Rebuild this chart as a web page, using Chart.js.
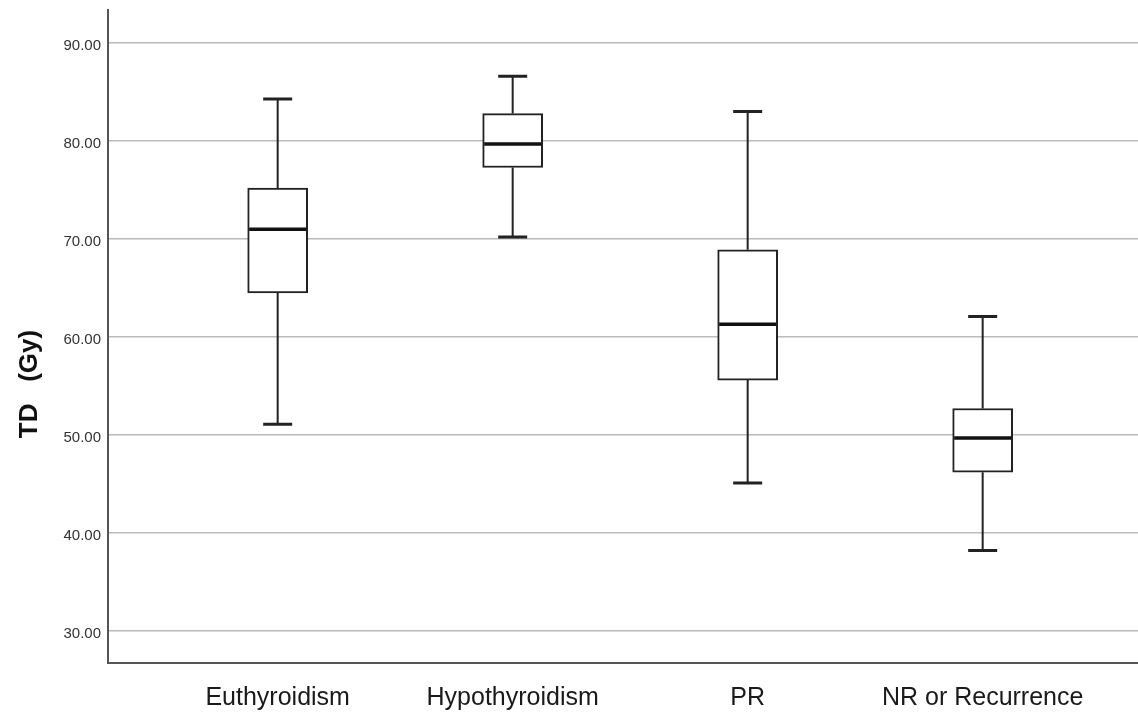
<!DOCTYPE html>
<html>
<head>
<meta charset="utf-8">
<script src="https://cdn.jsdelivr.net/npm/chart.js@4"></script>
<style>
  html, body { margin: 0; padding: 0; background: #fff; }
  #wrap { width: 1138px; height: 715px; }
</style>
</head>
<body>
<div id="wrap"><canvas id="tdChart" width="1138" height="715"></canvas></div>
<script>
// valores (Gy)
const groups = ['Euthyroidism', 'Hypothyroidism', 'PR', 'NR or Recurrence'];
const whiskerMin = [51.1, 70.2, 45.1, 38.2];
const q1 = [64.5, 77.3, 55.6, 46.2];
const median = [71.0, 79.7, 61.3, 49.7];
const q3 = [75.2, 82.8, 68.9, 52.7];
const whiskerMax = [84.3, 86.6, 83.0, 62.1];
const yTicks = [30, 40, 50, 60, 70, 80, 90];

// caixas como barras flutuantes (q1 -> q3)
const boxData = groups.map((g, i) => ({ x: i, y: [q1[i], q3[i]] }));

// bigodes e medianas desenhados com as escalas do gráfico
const whiskerPlugin = {
    id: 'whiskers',
    afterDatasetsDraw(chart) {
        const { ctx, scales: { x, y } } = chart;
        const boxHalf = 29.5;
        const capHalf = 14.5;
        ctx.save();
        groups.forEach((g, i) => {
            const cx = x.getPixelForValue(i);
            // linhas verticais
            ctx.strokeStyle = '#222';
            ctx.lineWidth = 2;
            ctx.beginPath();
            ctx.moveTo(cx, y.getPixelForValue(q3[i]));
            ctx.lineTo(cx, y.getPixelForValue(whiskerMax[i]));
            ctx.moveTo(cx, y.getPixelForValue(q1[i]));
            ctx.lineTo(cx, y.getPixelForValue(whiskerMin[i]));
            ctx.stroke();
            // extremidades
            ctx.lineWidth = 3;
            ctx.beginPath();
            [whiskerMax[i], whiskerMin[i]].forEach(v => {
                const py = y.getPixelForValue(v);
                ctx.moveTo(cx - capHalf, py);
                ctx.lineTo(cx + capHalf, py);
            });
            ctx.stroke();
            // mediana
            ctx.strokeStyle = '#111';
            ctx.lineWidth = 3.5;
            ctx.beginPath();
            const my = y.getPixelForValue(median[i]);
            ctx.moveTo(cx - boxHalf + 1, my);
            ctx.lineTo(cx + boxHalf - 1, my);
            ctx.stroke();
        });
        ctx.restore();
    }
};

// título do eixo Y
const yTitlePlugin = {
    id: 'yTitle',
    afterDraw(chart) {
        const { ctx } = chart;
        ctx.save();
        ctx.translate(30, 384);
        ctx.rotate(-Math.PI / 2);
        ctx.font = 'bold 26px "Liberation Sans", Arial, sans-serif';
        ctx.fillStyle = '#111';
        ctx.textAlign = 'center';
        ctx.textBaseline = 'middle';
        ctx.fillText('TD   (Gy)', 0, 0);
        ctx.restore();
    }
};

document.addEventListener('DOMContentLoaded', () => {
    const ctxEl = document.getElementById('tdChart');
    new Chart(ctxEl, {
        type: 'bar',
        data: {
            datasets: [{
                label: 'TD',
                data: boxData,
                backgroundColor: '#ffffff',
                borderColor: '#222',
                borderWidth: 2,
                borderSkipped: false,
                barThickness: 60
            }]
        },
        options: {
            responsive: false,
            animation: false,
            events: [],
            layout: { padding: { top: 10, right: 0, left: 0, bottom: 0 } },
            plugins: {
                legend: { display: false },
                tooltip: { enabled: false }
            },
            scales: {
                x: {
                    type: 'linear',
                    offset: false,
                    min: -0.722,
                    max: 3.661,
                    afterBuildTicks: (scale) => {
                        scale.ticks = groups.map((g, i) => ({ value: i }));
                    },
                    afterFit: (scale) => {
                        scale.height = 52;
                        scale.paddingLeft = 0;
                        scale.paddingRight = 0;
                    },
                    grid: { display: false, drawTicks: false },
                    border: { display: true, color: '#555', width: 2 },
                    ticks: {
                        padding: 20,
                        color: '#1a1a1a',
                        font: { family: '"Liberation Sans", Arial, sans-serif', size: 25 },
                        callback: (v) => groups[v]
                    }
                },
                y: {
                    min: 26.73,
                    max: 93.37,
                    afterBuildTicks: (scale) => {
                        scale.ticks = yTicks.map(v => ({ value: v }));
                    },
                    afterFit: (scale) => {
                        scale.width = 108;
                        scale.paddingTop = 0;
                        scale.paddingBottom = 0;
                    },
                    grid: { color: '#bababa', lineWidth: 1.5, drawTicks: false },
                    border: { display: true, color: '#555', width: 2 },
                    ticks: {
                        padding: 7,
                        labelOffset: 3,
                        color: '#333',
                        font: { family: '"Liberation Sans", Arial, sans-serif', size: 15 },
                        callback: (v) => Number(v).toFixed(2)
                    }
                }
            }
        },
        plugins: [whiskerPlugin, yTitlePlugin]
    });
});
</script>
</body>
</html>
